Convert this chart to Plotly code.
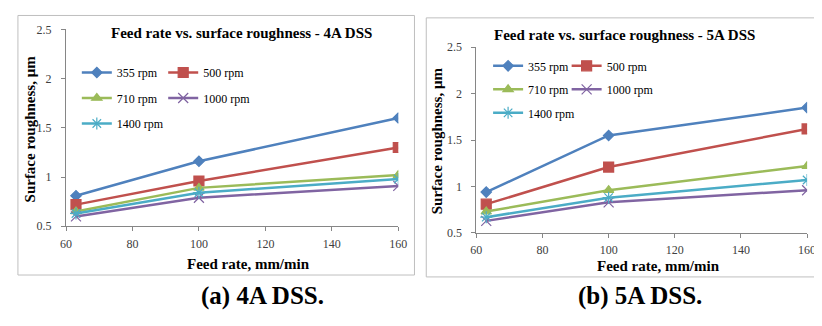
import plotly.graph_objects as go

feed = [63, 100, 160]
speeds = ["355 rpm", "500 rpm", "710 rpm", "1000 rpm", "1400 rpm"]
ra_4a = {
    "355 rpm": [0.81, 1.16, 1.60],
    "500 rpm": [0.72, 0.96, 1.30],
    "710 rpm": [0.65, 0.89, 1.02],
    "1000 rpm": [0.60, 0.79, 0.91],
    "1400 rpm": [0.63, 0.84, 0.98],
}
ra_5a = {
    "355 rpm": [0.94, 1.55, 1.85],
    "500 rpm": [0.81, 1.21, 1.62],
    "710 rpm": [0.73, 0.96, 1.22],
    "1000 rpm": [0.63, 0.83, 0.96],
    "1400 rpm": [0.67, 0.88, 1.07],
}
x_ticks = [60, 80, 100, 120, 140, 160]
y_ticks = [0.5, 1, 1.5, 2, 2.5]
y_ticktext = ["0.5", "1", "1.5", "2", "2.5"]

colors = ["#4F81BD", "#C0504D", "#9BBB59", "#8064A2", "#4BACC6"]
symbols = ["diamond", "square", "triangle-up", "x-thin-open", "asterisk-open"]
msizes = [8, 10, 9, 10, 10]
col_of = [0, 1, 0, 1, 0]

# the page body has an 8px default margin; work in window pixels
OFF = 8
W, H = 822 - OFF, 326 - OFF
def px(x): return (x - OFF) / W
def py(y): return 1 - (y - OFF) / H

fig = go.Figure()
for panel, data in enumerate([ra_4a, ra_5a]):
    for i, s in enumerate(speeds):
        leg_idx = panel * 2 + col_of[i]
        legname = "legend" if leg_idx == 0 else f"legend{leg_idx + 1}"
        fig.add_trace(go.Scatter(
            x=feed, y=data[s], name=s, mode="lines+markers",
            line=dict(color=colors[i], width=2.5),
            marker=dict(symbol=symbols[i], size=msizes[i], color=colors[i],
                        line=dict(color=colors[i], width=1.2)),
            xaxis="x" if panel == 0 else "x2",
            yaxis="y" if panel == 0 else "y2",
            legend=legname, legendgroup=f"p{panel}{s}",
        ))

font = "Liberation Serif"
axis_common = dict(
    showgrid=False, zeroline=False, showline=True, linecolor="#868686", linewidth=1,
    ticks="outside", ticklen=4, tickcolor="#868686",
    tickfont=dict(family=font, size=12, color="#404040"),
)
fig.update_layout(
    width=W, height=H, margin=dict(l=0, r=0, t=0, b=0),
    paper_bgcolor="white", plot_bgcolor="white",
    font=dict(family=font),
    xaxis=dict(domain=[px(61), px(399.5)], range=[60, 160], tickvals=x_ticks,
               anchor="y", ticklabelstandoff=2, **axis_common),
    yaxis=dict(domain=[py(229), py(23)], range=[0.5, 2.5], tickvals=y_ticks,
               ticktext=y_ticktext, anchor="x", ticklabelstandoff=7, **axis_common),
    xaxis2=dict(domain=[px(479), min(1.0, px(816))], range=[60, 160], tickvals=x_ticks,
                anchor="y2", ticklabelstandoff=2, **axis_common),
    yaxis2=dict(domain=[py(236), py(41.7)], range=[0.5, 2.5], tickvals=y_ticks,
                ticktext=y_ticktext, anchor="x2", ticklabelstandoff=7, **axis_common),
)

leg_common = dict(bgcolor="rgba(0,0,0,0)", font=dict(family=font, size=12, color="black"),
                  xanchor="left", yanchor="top", itemwidth=30)
fig.update_layout(
    legend=dict(x=px(72), y=py(53), tracegroupgap=6.5, **leg_common),
    legend2=dict(x=px(160), y=py(53), tracegroupgap=6.5, **leg_common),
    legend3=dict(x=px(491), y=py(46), tracegroupgap=4.5, **leg_common),
    legend4=dict(x=px(571), y=py(46), tracegroupgap=4.5, **leg_common),
)

# panel frames
fig.add_shape(type="rect", xref="paper", yref="paper", x0=px(12), x1=px(416),
              y0=py(280), y1=py(8.5), line=dict(color="#BFBFBF", width=1))
fig.add_shape(type="rect", xref="paper", yref="paper", x0=px(428), x1=px(834),
              y0=py(282), y1=py(11), line=dict(color="#BFBFBF", width=1))

ann = []
def t(x, y, text, size, bold=True, angle=0):
    ann.append(dict(x=px(x), y=py(y), xref="paper", yref="paper", text=f"<b>{text}</b>" if bold else text,
                    showarrow=False, textangle=angle, xanchor="center", yanchor="middle",
                    font=dict(family=font, size=size, color="black")))

t(240, 27, "Feed rate vs. surface roughness - 4A DSS", 15)
t(630, 29, "Feed rate vs. surface roughness - 5A DSS", 15)
t(247, 268, "Feed rate, mm/min", 15)
t(665, 271, "Feed rate, mm/min", 15)
t(24, 127, "Surface roughness, μm", 15, angle=-90)
t(439, 140, "Surface roughness, μm", 15, angle=-90)
t(261, 302, "(a) 4A DSS.", 25)
t(646, 302, "(b) 5A DSS.", 25)
fig.update_layout(annotations=ann)

fig.write_html("out.html")
